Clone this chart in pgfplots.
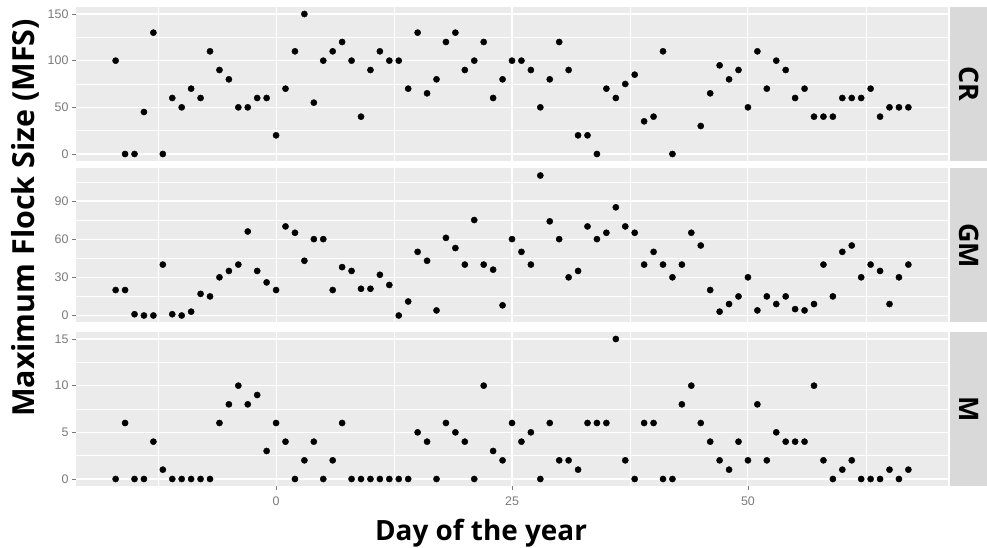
\documentclass[border=0pt]{standalone}
\usepackage{fontspec}
\setmainfont{Open Sans}
\newfontfamily\tickfont{Liberation Sans}
\usepackage{pgfplots}
\pgfplotsset{compat=1.18}
\definecolor{panelbg}{HTML}{EBEBEB}
\definecolor{stripbg}{HTML}{D9D9D9}
\definecolor{tickgray}{HTML}{7A7A7A}
\pgfplotsset{
  panel/.style={
    scale only axis, width=872bp, height=154bp,
    xmin=-21.2, xmax=71.2,
    axis background/.style={fill=panelbg},
    axis line style={draw=none},
    grid=both,
    major grid style={white, line width=1.1bp},
    minor grid style={white, line width=0.5bp},
    xtick={0,25,50}, minor xtick={-12.5,12.5,37.5,62.5},
    xtick pos=bottom, ytick pos=left,
    tick align=outside,
    major tick length=4bp, minor tick length=0pt,
    tick style={tickgray, line width=0.7bp},
    tick label style={font=\tickfont\fontsize{12.5}{14}\selectfont, text=tickgray},
    xticklabel style={yshift=-3bp},
    /pgf/number format/assume math mode=true,
    clip=false,
  },
  pts/.style={only marks, mark=*, mark size=3.1bp, mark options={fill=black, draw=black}},
}
\begin{document}
\begin{tikzpicture}
\useasboundingbox (0,0) rectangle (987bp,548bp);
% ---------- CR ----------
\begin{axis}[panel, name=cr, at={(76bp,387bp)}, anchor=south west,
  ymin=-7.5, ymax=157.5, ytick={0,50,100,150}, minor ytick={25,75,125},
  xticklabels={}, xtick style={draw=none}]
\addplot[pts] coordinates {
(-17,100)(-16,0)(-15,0)(-14,45)(-13,130)(-12,0)(-11,60)(-10,50)(-9,70)(-8,60)
(-7,110)(-6,90)(-5,80)(-4,50)(-3,50)(-2,60)(-1,60)(0,20)(1,70)(2,110)
(3,150)(4,55)(5,100)(6,110)(7,120)(8,100)(9,40)(10,90)(11,110)(12,100)
(13,100)(14,70)(15,130)(16,65)(17,80)(18,120)(19,130)(20,90)(21,100)(22,120)
(23,60)(24,80)(25,100)(26,100)(27,90)(28,50)(29,80)(30,120)(31,90)(32,20)
(33,20)(34,0)(35,70)(36,60)(37,75)(38,85)(39,35)(40,40)(41,110)(42,0)
(45,30)(46,65)(47,95)(48,80)(49,90)(50,50)(51,110)(52,70)(53,100)(54,90)
(55,60)(56,70)(57,40)(58,40)(59,40)(60,60)(61,60)(62,60)(63,70)(64,40)
(65,50)(66,50)(67,50)};
\end{axis}
% ---------- GM ----------
\begin{axis}[panel, name=gm, at={(76bp,225.5bp)}, anchor=south west,
  ymin=-5.5, ymax=115.5, ytick={0,30,60,90}, minor ytick={15,45,75,105},
  xticklabels={}, xtick style={draw=none}]
\addplot[pts] coordinates {
(-17,20)(-16,20)(-15,1)(-14,0)(-13,0)(-12,40)(-11,1)(-10,0)(-9,3)(-8,17)
(-7,15)(-6,30)(-5,35)(-4,40)(-3,66)(-2,35)(-1,26)(0,20)(1,70)(2,65)
(3,43)(4,60)(5,60)(6,20)(7,38)(8,35)(9,21)(10,21)(11,32)(12,24)
(13,0)(14,11)(15,50)(16,43)(17,4)(18,61)(19,53)(20,40)(21,75)(22,40)
(23,36)(24,8)(25,60)(26,50)(27,40)(28,110)(29,74)(30,60)(31,30)(32,35)
(33,70)(34,60)(35,65)(36,85)(37,70)(38,65)(39,40)(40,50)(41,40)(42,30)
(43,40)(44,65)(45,55)(46,20)(47,3)(48,9)(49,15)(50,30)(51,4)(52,15)
(53,9)(54,15)(55,5)(56,4)(57,9)(58,40)(59,15)(60,50)(61,55)(62,30)
(63,40)(64,35)(65,9)(66,30)(67,40)};
\end{axis}
% ---------- M ----------
\begin{axis}[panel, name=m, at={(76bp,62bp)}, anchor=south west,
  ymin=-0.75, ymax=15.75, ytick={0,5,10,15}, minor ytick={2.5,7.5,12.5}]
\addplot[pts] coordinates {
(-17,0)(-16,6)(-15,0)(-14,0)(-13,4)(-12,1)(-11,0)(-10,0)(-9,0)(-8,0)
(-7,0)(-6,6)(-5,8)(-4,10)(-3,8)(-2,9)(-1,3)(0,6)(1,4)(2,0)
(3,2)(4,4)(5,0)(6,2)(7,6)(8,0)(9,0)(10,0)(11,0)(12,0)
(13,0)(14,0)(15,5)(16,4)(17,0)(18,6)(19,5)(20,4)(21,0)(22,10)
(23,3)(24,2)(25,6)(26,4)(27,5)(28,0)(29,6)(30,2)(31,2)(32,1)
(33,6)(34,6)(35,6)(36,15)(37,2)(38,0)(39,6)(40,6)(41,0)(42,0)
(43,8)(44,10)(45,6)(46,4)(47,2)(48,1)(49,4)(50,2)(51,8)(52,2)
(53,5)(54,4)(55,4)(56,4)(57,10)(58,2)(59,0)(60,1)(61,2)(62,0)
(63,0)(64,0)(65,1)(66,0)(67,1)};
\end{axis}
% ---------- strips ----------
\foreach \p/\lab in {cr/CR, gm/GM, m/M}{
  \fill[stripbg] ([xshift=2bp]\p.south east) rectangle ([xshift=40bp]\p.north east);
  \node[rotate=-90, font=\bfseries\fontsize{27}{30}\selectfont, inner sep=0pt]
    at ([xshift=21bp]\p.east) {\lab};
}
% ---------- axis titles ----------
\node[rotate=90, font=\bfseries\fontsize{30.5}{34}\selectfont, inner sep=0pt]
  at (25bp,330bp) {Maximum Flock Size (MFS)};
\node[anchor=base, font=\bfseries\fontsize{28}{32}\selectfont, inner sep=0pt]
  at (481bp,7.5bp) {Day of the year};
\end{tikzpicture}
\end{document}
